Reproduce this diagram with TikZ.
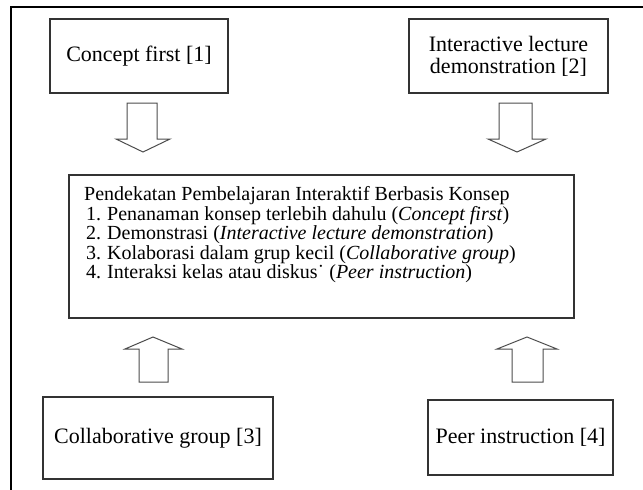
\documentclass[tikz,border=0pt]{standalone}
\usepackage{fontspec}
\setmainfont{Liberation Serif}
\tikzset{
  box/.style={draw=black!80, line width=1.1pt, inner sep=0pt, align=center, font=\fontsize{22}{22}\selectfont},
  blockarrow/.style={draw=black!70, line width=1pt, line join=miter}
}
\begin{document}
\begin{tikzpicture}[x=1pt,y=-1pt]
  \useasboundingbox (0,0) rectangle (643,490);
  % frame
  \draw [line width=2.6pt] (11,492)--(11,7)--(645,7);

  % top boxes
  \node [box, minimum width=178pt, minimum height=74pt] (concept) at (139,56) {Concept first [1]};
  \node [box, minimum width=199pt, minimum height=74pt] (ild) at (508.5,56) {Interactive lecture\\demonstration [2]};

  % down arrows
  \draw [blockarrow] (127,103)--(157,103)--(157,139)--(170,139)--(143,152)--(116,139)--(127,139)--cycle;
  \draw [blockarrow] (499,103)--(532,103)--(532,139)--(546,139)--(517,152)--(488,139)--(499,139)--cycle;

  % middle box
  \node [box, minimum width=505pt, minimum height=143pt] (approach) at (321.5,246.5) {};
  \node [anchor=north west, inner sep=0pt, align=left, font=\fontsize{20}{19}\selectfont] (approachtext) at (84,186) {%
    \begin{tabular}{@{}l@{\hspace{6pt}}l@{}}
      \multicolumn{2}{@{}l@{}}{Pendekatan Pembelajaran Interaktif Berbasis Konsep}\\
      \hspace{2pt}1. & Penanaman konsep terlebih dahulu (\textit{Concept first})\\
      \hspace{2pt}2. & Demonstrasi (\textit{Interactive lecture demonstration})\\
      \hspace{2pt}3. & Kolaborasi dalam grup kecil (\textit{Collaborative group})\\
      \hspace{2pt}4. & Interaksi kelas atau diskus˙ (\textit{Peer instruction})
    \end{tabular}};

  % up arrows
  \draw [blockarrow] (139,382)--(168,382)--(168,349)--(182,349)--(153,337)--(125,349)--(139,349)--cycle;
  \draw [blockarrow] (512,382)--(543,382)--(543,349)--(557,349)--(527,337)--(497,349)--(512,349)--cycle;

  % bottom boxes
  \node [box, minimum width=230pt, minimum height=82pt] (collab) at (158,438) {Collaborative group [3]};
  \node [box, minimum width=185pt, minimum height=75pt] (peer) at (520.5,437.5) {Peer instruction [4]};

\end{tikzpicture}
\end{document}
